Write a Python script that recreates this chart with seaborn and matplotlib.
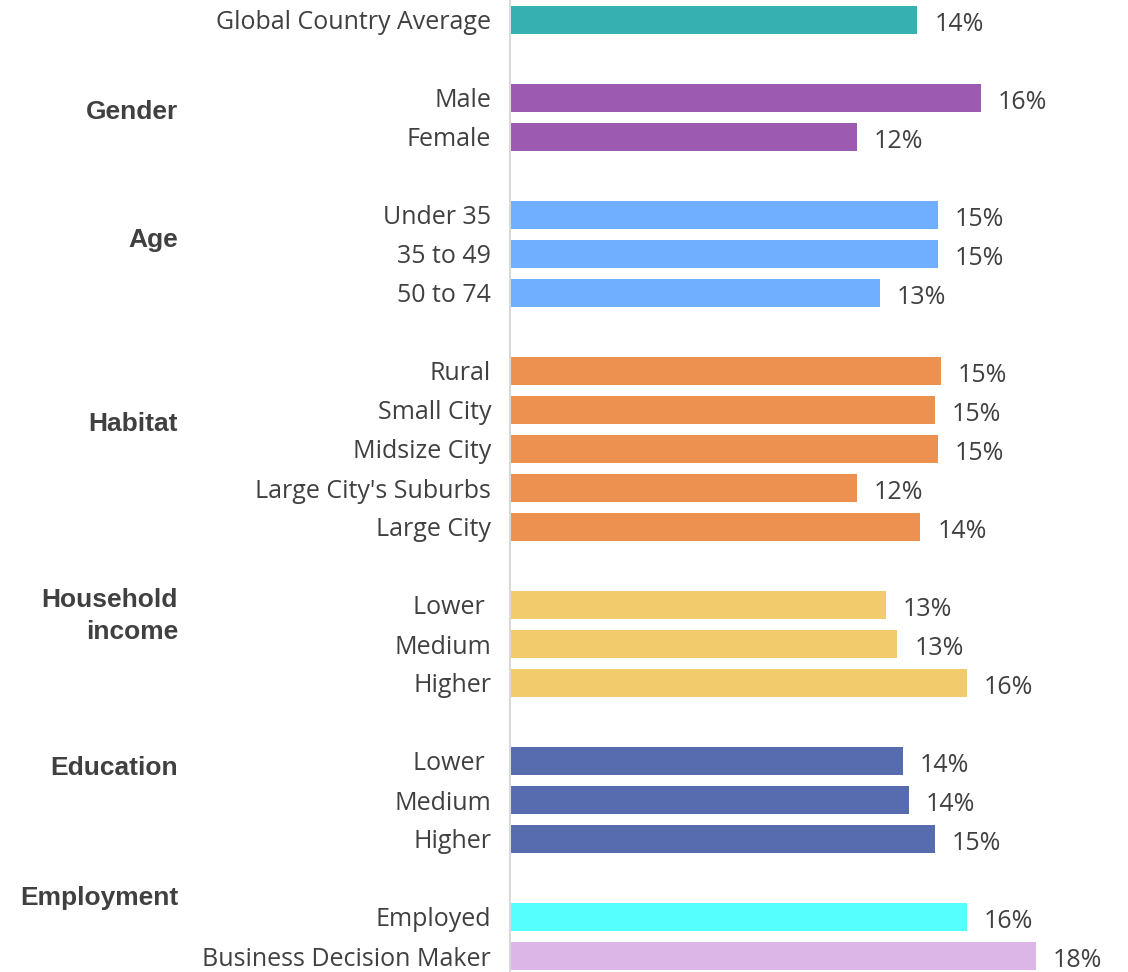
import pandas as pd
import matplotlib
matplotlib.use("Agg")
import matplotlib.pyplot as plt
import matplotlib.transforms as mtransforms
import seaborn as sns

# ==========================================================
# DATA
# ==========================================================

labels = [
    "Global Country Average",
    "Male", "Female",
    "Under 35", "35 to 49", "50 to 74",
    "Rural", "Small City", "Midsize City", "Large City's Suburbs", "Large City",
    "Lower ", "Medium", "Higher",
    "Lower ", "Medium", "Higher",
    "Employed", "Business Decision Maker",
]
values = [
    14.1,
    16.3, 12.0,
    14.8, 14.8, 12.8,
    14.9, 14.7, 14.8, 12.0, 14.2,
    13.0, 13.4, 15.8,
    13.6, 13.8, 14.7,
    15.8, 18.2,
]
groups = [
    "Global",
    "Gender", "Gender",
    "Age", "Age", "Age",
    "Habitat", "Habitat", "Habitat", "Habitat", "Habitat",
    "Household\nincome", "Household\nincome", "Household\nincome",
    "Education", "Education", "Education",
    "Employment", "Business",
]
group_names = ["Gender", "Age", "Habitat", "Household\nincome", "Education", "Employment"]

colors = {
    "Global": "#36B0B0",
    "Gender": "#9C5BB0",
    "Age": "#70AEFF",
    "Habitat": "#ED9150",
    "Household\nincome": "#F2CB6D",
    "Education": "#576BAF",
    "Employment": "#55FFFE",
    "Business": "#DCB6E6",
}

# ==========================================================
# LAYOUT (one empty slot between groups)
# ==========================================================

slots = []
s = 0
prev = None
for g in groups:
    if prev is not None and g != prev and not (prev == "Employment" and g == "Business"):
        s += 1
    slots.append(s)
    s += 1
    prev = g

df = pd.DataFrame({
    "label": labels,
    "value": values,
    "group": groups,
    "slot": slots,
    "row": [f"r{i}" for i in range(len(labels))],
})
palette = {r: colors[g] for r, g in zip(df["row"], df["group"])}

TEXT = "#404040"
W, H = 1128, 972
px_per_unit = 28.9
label_size = 18

fig = plt.figure(figsize=(W / 100, H / 100), dpi=100)
ax = fig.add_axes([510 / W, 0, 1 - 510 / W, 1])

sns.barplot(
    data=df, x="value", y="slot", hue="row", palette=palette,
    orient="h", native_scale=True, dodge=False, width=0.7,
    legend=False, ax=ax, saturation=1,
)

# value labels to the right of each bar
gap = 17 / px_per_unit
for v, y in zip(df["value"], df["slot"]):
    ax.text(v + gap, y + 0.03, f"{v:.0f}%", ha="left", va="center_baseline",
            color=TEXT, fontsize=label_size, family="Open Sans")

ax.set_xlim(0, (W - 510) / px_per_unit)
ax.set_ylim((H - 20) / 39, -20 / 39)

ax.set_yticks(df["slot"], df["label"])
ax.tick_params(axis="y", length=0, pad=13.5, labelcolor=TEXT)
for t in ax.get_yticklabels():
    t.set_fontfamily("Open Sans")
    t.set_fontsize(label_size)
ax.set_xticks([])
ax.set_xlabel("")
ax.set_ylabel("")

for side in ["top", "right", "bottom"]:
    ax.spines[side].set_visible(False)
ax.spines["left"].set_color("#d9d9d9")
ax.spines["left"].set_linewidth(1.5)

# group captions on the far left
trans = mtransforms.blended_transform_factory(fig.transFigure, ax.transData)
group_pos = [2.36, 5.64, 10.36, 15.28, 19.18, 22.51]
for name, y in zip(group_names, group_pos):
    ax.text(178 / W, y, name, transform=trans, ha="right", va="center",
            multialignment="right", fontsize=19, fontweight="bold",
            color=TEXT, family="Liberation Sans", linespacing=1.45)

fig.savefig("out.png", dpi=100)
